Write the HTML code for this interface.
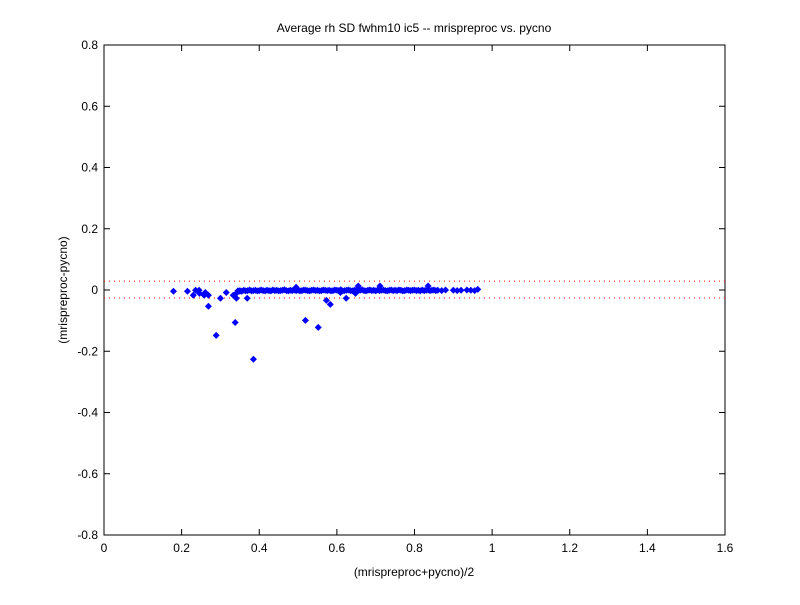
<!DOCTYPE html>
<html><head><meta charset="utf-8"><style>
body{margin:0;background:#fff}
svg text{font-family:"Liberation Sans",sans-serif;font-size:12px;fill:#000}
</style></head><body>
<svg id="chart" width="800" height="600" xmlns="http://www.w3.org/2000/svg">
<rect width="800" height="600" fill="#fff"/>
<rect x="104" y="45" width="621" height="490" fill="#fff" stroke="#000" stroke-width="1"/>
<text x="414" y="32" text-anchor="middle">Average rh SD fwhm10 ic5 -- mrispreproc vs. pycno</text>
<text x="414" y="576" text-anchor="middle">(mrispreproc+pycno)/2</text>
<text x="67" y="290" text-anchor="middle" transform="rotate(-90 67 290)">(mrispreproc-pycno)</text>
<g id="axes"></g>
<g id="refs"></g>
<g id="points"></g>
</svg>
<script>
const xTicks=[0,0.2,0.4,0.6,0.8,1,1.2,1.4,1.6];
const xTickLabels=["0","0.2","0.4","0.6","0.8","1","1.2","1.4","1.6"];
const yTicks=[-0.8,-0.6,-0.4,-0.2,0,0.2,0.4,0.6,0.8];
const yTickLabels=["-0.8","-0.6","-0.4","-0.2","0","0.2","0.4","0.6","0.8"];
const refLines=[0.029,-0.026];
const outX=[0.179,0.215,0.230,0.236,0.245,0.246,0.261,0.258,0.269,0.269,0.289,0.300,0.315,0.338,0.333,0.341,0.369,0.385,0.519,0.552,0.573,0.583,0.609,0.624,0.648,0.495,0.711,0.655,0.835,0.343,0.350];
const outY=[-0.004,-0.004,-0.017,-0.001,-0.001,-0.011,-0.008,-0.017,-0.017,-0.053,-0.148,-0.027,-0.008,-0.106,-0.017,-0.027,-0.027,-0.226,-0.099,-0.122,-0.034,-0.047,-0.008,-0.027,-0.011,0.009,0.013,0.013,0.013,-0.008,-0.004];
const bandX=[0.345,0.35,0.355,0.36,0.365,0.37,0.375,0.38,0.385,0.39,0.395,0.40,0.405,0.41,0.415,0.42,0.425,0.43,0.435,0.44,0.445,0.45,0.455,0.46,0.465,0.47,0.475,0.48,0.485,0.49,0.495,0.50,0.505,0.51,0.515,0.52,0.525,0.53,0.535,0.54,0.545,0.55,0.555,0.56,0.565,0.57,0.575,0.58,0.585,0.59,0.595,0.60,0.605,0.61,0.615,0.62,0.625,0.63,0.635,0.64,0.645,0.65,0.655,0.66,0.665,0.67,0.675,0.68,0.685,0.69,0.695,0.70,0.705,0.71,0.715,0.72,0.725,0.73,0.735,0.74,0.745,0.75,0.755,0.76,0.765,0.77,0.775,0.78,0.785,0.79,0.795,0.80,0.805,0.81,0.815,0.82,0.825,0.83,0.835,0.84,0.845,0.85,0.855,0.86,0.87,0.88,0.90,0.91,0.92,0.935,0.945,0.955,0.963];
const bandY=[-0.003,-0.002,-0.004,-0.001,-0.003,-0.002,0.000,-0.003,-0.002,-0.001,-0.003,-0.002,0.000,-0.002,-0.003,-0.001,-0.002,-0.003,0.000,-0.002,-0.001,-0.003,-0.002,-0.001,0.001,-0.002,-0.003,-0.001,-0.002,0.000,-0.002,-0.001,-0.003,-0.002,0.000,-0.001,-0.002,-0.003,-0.001,0.000,-0.002,-0.001,-0.003,-0.002,0.000,-0.001,-0.002,-0.001,-0.003,-0.002,0.000,-0.001,-0.002,0.001,-0.003,-0.002,-0.001,0.000,-0.002,-0.003,-0.001,0.000,-0.002,-0.001,0.001,-0.002,-0.003,-0.001,0.000,-0.002,-0.001,-0.003,0.000,-0.002,-0.001,0.000,-0.002,-0.003,-0.001,0.000,-0.002,-0.001,-0.002,0.000,-0.001,-0.003,-0.002,0.000,-0.001,-0.002,-0.001,0.000,-0.002,-0.001,-0.003,0.000,-0.002,-0.001,0.000,-0.002,-0.001,0.000,-0.002,-0.001,-0.002,0.000,-0.001,-0.002,-0.001,0.000,-0.001,-0.002,0.002];
const X0=104,X1=725,Y0=535,Y1=45;
function sx(v){return X0+(v-0)/(1.6-0)*(X1-X0);}
function sy(v){return Y0-(v+0.8)/1.6*(Y0-Y1);}
const NS="http://www.w3.org/2000/svg";
function mk(t,a){const e=document.createElementNS(NS,t);for(const k in a)e.setAttribute(k,a[k]);return e;}
const axes=document.getElementById('axes');
xTicks.forEach((v,i)=>{const x=sx(v);
 axes.appendChild(mk('line',{x1:x,x2:x,y1:Y0,y2:Y0-6,stroke:'#000'}));
 axes.appendChild(mk('line',{x1:x,x2:x,y1:Y1,y2:Y1+6,stroke:'#000'}));
 const t=mk('text',{x:x,y:Y0+17,'text-anchor':'middle'});t.textContent=xTickLabels[i];
 
 
 axes.appendChild(t);});
yTicks.forEach((v,i)=>{const y=sy(v);
 axes.appendChild(mk('line',{x1:X0,x2:X0+6,y1:y,y2:y,stroke:'#000'}));
 axes.appendChild(mk('line',{x1:X1,x2:X1-6,y1:y,y2:y,stroke:'#000'}));
 const t=mk('text',{x:X0-6,y:y+4,'text-anchor':'end'});t.textContent=yTickLabels[i];
 
 
 axes.appendChild(t);});
const refs=document.getElementById('refs');
refLines.forEach(v=>{const l=mk('line',{x1:X0,x2:X1,y1:sy(v),y2:sy(v),stroke:'#ff0000','stroke-width':1,'stroke-dasharray':'1,4'});
 
 
 refs.appendChild(l);});
const pts=document.getElementById('points');
function dot(xv,yv){const x=sx(xv),y=sy(yv);
 const p=mk('path',{d:`M${x-3.5},${y}L${x},${y-3.5}L${x+3.5},${y}L${x},${y+3.5}Z`,fill:'#0000ff'});
 
 
 pts.appendChild(p);}
bandX.forEach((v,i)=>dot(v,bandY[i]));
outX.forEach((v,i)=>dot(v,outY[i]));
</script>
</body></html>
